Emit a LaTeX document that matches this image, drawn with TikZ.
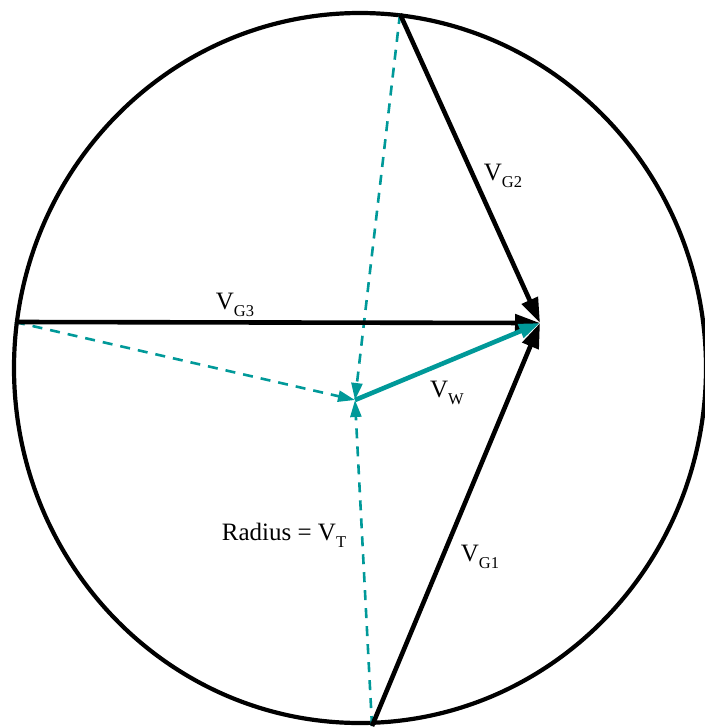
\documentclass[tikz,border=0pt]{standalone}
\usepackage{fontspec}
\setmainfont{Liberation Serif}
\usetikzlibrary{arrows.meta}
\definecolor{teal1}{RGB}{0,153,153}
\newcommand{\vsub}[2]{#1\raisebox{-0.28em}{\fontsize{16.5}{16.5}\selectfont #2}}
\begin{document}
\begin{tikzpicture}[x=1pt,y=-1pt,
  blk/.style={line width=4.6pt,-{Triangle[length=25pt,width=17pt]}},
  tealvec/.style={teal1,line width=4.6pt,-{Triangle[length=21pt,width=14pt]}},
  radline/.style={teal1,line width=2.6pt,dash pattern=on 10pt off 8pt,-{Triangle[length=17pt,width=11pt]}},
  lbl/.style={font=\fontsize{25}{29}\selectfont,inner sep=0pt}]
\useasboundingbox (0,0) rectangle (704,728);
\draw[line width=4.2pt] (360,368) ellipse [x radius=346, y radius=355];
\coordinate (A) at (400,14);
\coordinate (B) at (15,322);
\coordinate (D) at (372,726);
\coordinate (C) at (355,400);
\coordinate (P) at (540,323);
\draw[radline] (A) -- (C);
\draw[radline] (B) -- (C);
\draw[radline] (D) -- (C);
\draw[blk] (B) -- (P);
\draw[blk] (A) -- (P);
\draw[blk] (D) -- (P);
\draw[tealvec] (C) -- (P);
\node[lbl] (lg3) at (235,305) {\vsub{V}{G3}};
\node[lbl] (lg2) at (503,176) {\vsub{V}{G2}};
\node[lbl] (lw) at (447,393) {\vsub{V}{W}};
\node[lbl] (lg1) at (480,557) {\vsub{V}{G1}};
\node[lbl] (lr) at (284,535) {Radius = \vsub{V}{T}};
\end{tikzpicture}
\end{document}
